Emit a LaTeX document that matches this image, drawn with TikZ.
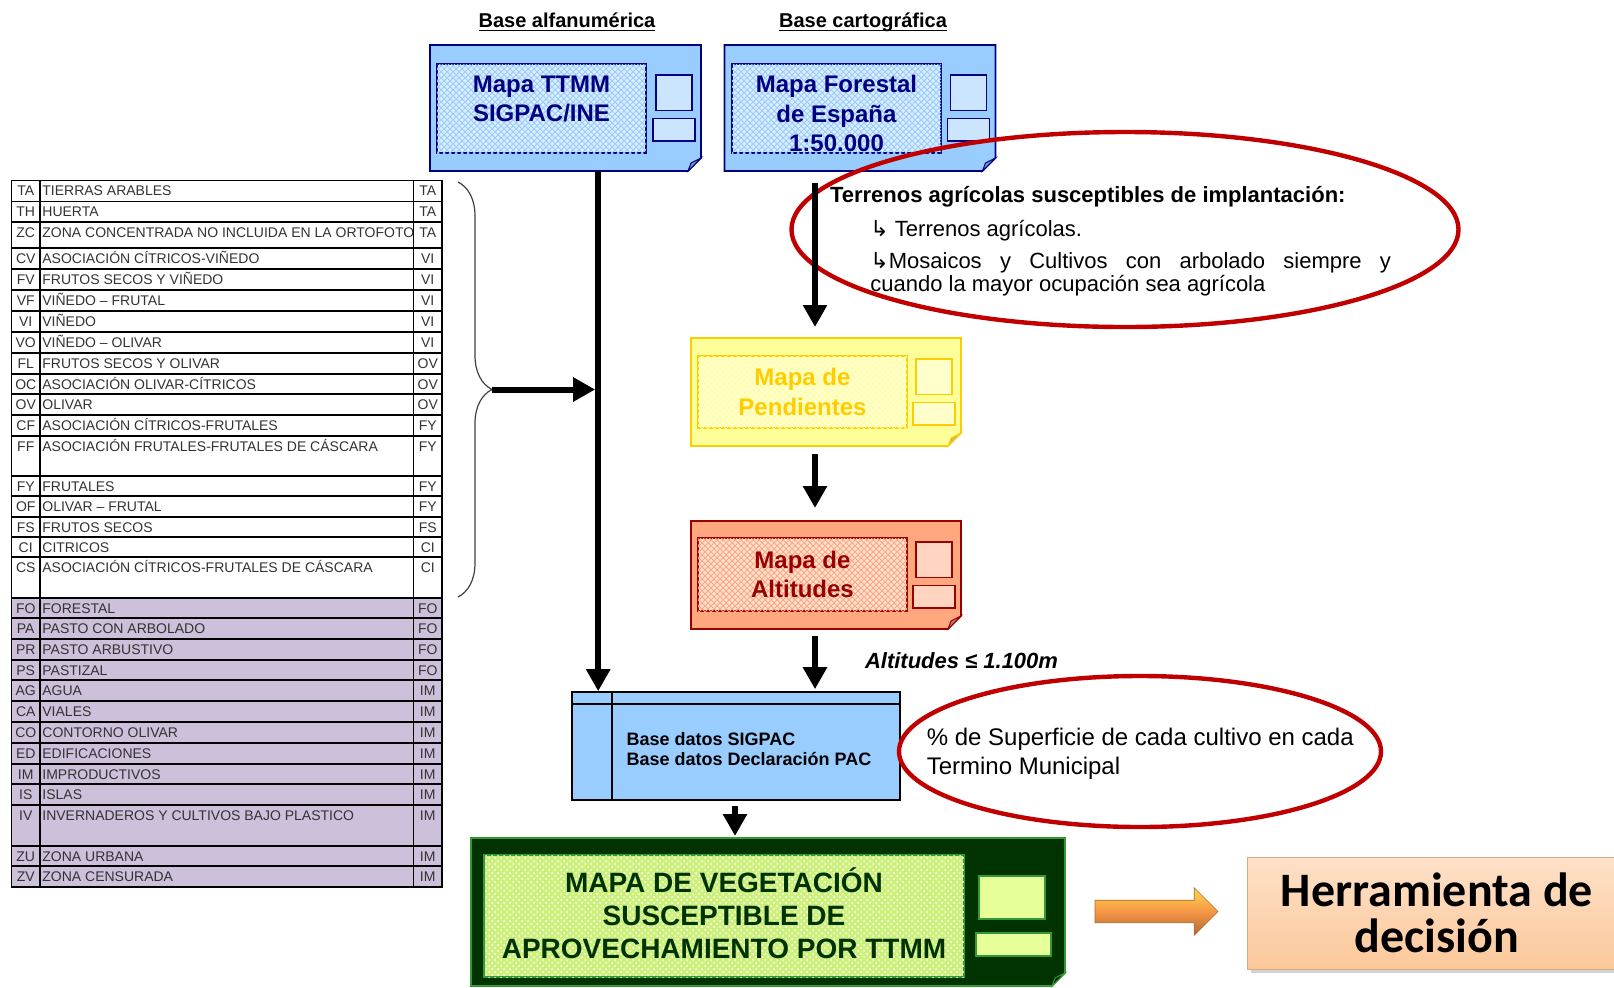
\documentclass[tikz,border=0pt]{standalone}
\usepackage{fontspec}
\setmainfont{Liberation Sans}
\newfontfamily\calibri{Carlito}
\newfontfamily\simbolos{DejaVu Sans}
\usetikzlibrary{arrows.meta,patterns,shapes.geometric,shapes.arrows,decorations.pathreplacing,calc,shadows}

\definecolor{azul}{HTML}{99CCFF}
\definecolor{azulclaro}{HTML}{CCE5FF}
\definecolor{marino}{HTML}{000080}
\definecolor{amarillo}{HTML}{FFFF99}
\definecolor{amarilloclaro}{HTML}{FFFFCC}
\definecolor{oro}{HTML}{FFCC00}
\definecolor{salmon}{HTML}{FFA880}
\definecolor{salmonclaro}{HTML}{FFD4C0}
\definecolor{granate}{HTML}{990000}
\definecolor{verdeosc}{HTML}{003300}
\definecolor{verde}{HTML}{339933}
\definecolor{lima}{HTML}{CCF07A}
\definecolor{limaclaro}{HTML}{E6FF99}
\definecolor{rojo}{HTML}{C00000}
\definecolor{lila}{HTML}{CCC0DA}
\definecolor{durazno}{HTML}{FCC89B}
\definecolor{naranja}{HTML}{F79646}

\begin{document}
\begin{tikzpicture}[x=0.5pt,y=-0.5pt,
  flecha/.style={line width=3pt,-{Triangle[width=11.5pt,length=11pt]}},
  marco/.style={inner sep=0pt,outer sep=0pt},
  interior/.style 2 args={draw=#1,fill=#2!35!white,line width=0.8pt,inner sep=0pt,
    postaction={pattern=crosshatch,pattern color=#2}},
  titulo/.style={font=\bfseries\fontsize{12}{14.6}\selectfont,align=center,inner sep=0pt,text=#1},
  tabla/.style={draw=black,line width=0.7pt},
  celda/.style={font=\fontsize{7}{8}\selectfont,text=black!80,inner sep=1pt,text height=5pt,text depth=0pt},
  elipse/.style={ellipse,draw=rojo,line width=2.2pt,inner sep=0pt},
  cabecera/.style={font=\bfseries\fontsize{10}{12}\selectfont},
  texto/.style={font=\fontsize{11}{12}\selectfont,inner sep=0pt,anchor=base west}]

\useasboundingbox (0,0) rectangle (1614,987);

% tabla de usos SIGPAC
\foreach \y/\h/\a/\d/\b in {180.5/20.8/TA/TIERRAS ARABLES/TA,
  201.3/20.7/TH/HUERTA/TA,
  222/26/ZC/ZONA CONCENTRADA NO INCLUIDA EN LA ORTOFOTO/TA,
  248/21/CV/ASOCIACIÓN CÍTRICOS-VIÑEDO/VI,
  269/21/FV/FRUTOS SECOS Y VIÑEDO/VI,
  290/21/VF/VIÑEDO – FRUTAL/VI,
  311/21/VI/VIÑEDO/VI,
  332/21/VO/VIÑEDO – OLIVAR/VI,
  353/21/FL/FRUTOS SECOS Y OLIVAR/OV,
  374/20/OC/ASOCIACIÓN OLIVAR-CÍTRICOS/OV,
  394/21/OV/OLIVAR/OV,
  415/21/CF/ASOCIACIÓN CÍTRICOS-FRUTALES/FY,
  436/40/FF/ASOCIACIÓN FRUTALES-FRUTALES DE CÁSCARA/FY,
  476/20/FY/FRUTALES/FY,
  496/21/OF/OLIVAR – FRUTAL/FY,
  517/20/FS/FRUTOS SECOS/FS,
  537/20/CI/CITRICOS/CI,
  557/41/CS/ASOCIACIÓN CÍTRICOS-FRUTALES DE CÁSCARA/CI}{
  \filldraw[fill=white,tabla] (11.5,\y) rectangle (40,\y+\h);
  \filldraw[fill=white,tabla] (40,\y) rectangle (413.5,\y+\h);
  \filldraw[fill=white,tabla] (413.5,\y) rectangle (442,\y+\h);
  \node[celda] (izq-\a) at (25.75,\y+10.4) {\a};
  \node[celda,anchor=west] (desc-\a) at (40,\y+10.4) {\d};
  \node[celda] (der-\a) at (427.75,\y+10.4) {\b};
}
\foreach \y/\h/\a/\d/\b in {598/20/FO/FORESTAL/FO,
  618/21/PA/PASTO CON ARBOLADO/FO,
  639/21/PR/PASTO ARBUSTIVO/FO,
  660/20/PS/PASTIZAL/FO,
  680/21/AG/AGUA/IM,
  701/21/CA/VIALES/IM,
  722/21/CO/CONTORNO OLIVAR/IM,
  743/21/ED/EDIFICACIONES/IM,
  764/20/IM/IMPRODUCTIVOS/IM,
  784/21/IS/ISLAS/IM,
  805/41/IV/INVERNADEROS Y CULTIVOS BAJO PLASTICO/IM,
  846/20/ZU/ZONA URBANA/IM,
  866/21/ZV/ZONA CENSURADA/IM}{
  \filldraw[fill=lila,tabla] (11.5,\y) rectangle (40,\y+\h);
  \filldraw[fill=lila,tabla] (40,\y) rectangle (413.5,\y+\h);
  \filldraw[fill=lila,tabla] (413.5,\y) rectangle (442,\y+\h);
  \node[celda] (izq-\a) at (25.75,\y+10.4) {\a};
  \node[celda,anchor=west] (desc-\a) at (40,\y+10.4) {\d};
  \node[celda] (der-\a) at (427.75,\y+10.4) {\b};
}

% cabeceras
\node[cabecera] (alfa) at (567,22) {\underline{\raisebox{0pt}[\height][0pt]{Base alfanumérica}}};
\node[cabecera] (carto) at (863,22) {\underline{\raisebox{0pt}[\height][0pt]{Base cartográfica}}};

% mapas
\node[marco,minimum width=135.5pt,minimum height=63pt] (ttmm) at (565.5,108) {};
\node[marco,minimum width=135.5pt,minimum height=63pt] (forestal) at (860,108) {};
\node[marco,minimum width=135pt,minimum height=54pt] (pendientes) at (826,392) {};
\node[marco,minimum width=135pt,minimum height=54pt] (altitudes) at (826,575) {};
\node[marco,minimum width=297pt,minimum height=74pt] (vegetacion) at (768,912) {};

\foreach \n/\fo/\dr in {ttmm/azul/marino,forestal/azul/marino,pendientes/amarillo/oro,
    altitudes/salmon/granate,vegetacion/verdeosc/verde}{
  \filldraw[fill=\fo,draw=\dr,line width=0.8pt] (\n.north west) -- (\n.north east)
    -- ([yshift=6.5pt]\n.south east) -- ([xshift=-6.5pt]\n.south east) -- (\n.south west) -- cycle;
  \filldraw[fill=\fo!75!black,draw=\dr,line width=0.5pt] ([yshift=6.5pt]\n.south east)
    -- ([xshift=-6.5pt]\n.south east) -- ([xshift=-5pt,yshift=4pt]\n.south east) -- cycle;
}
\foreach \n/\dr/\fs in {ttmm/marino/azulclaro,forestal/marino/azulclaro,
    pendientes/oro/amarilloclaro,altitudes/granate/salmonclaro}{
  \filldraw[fill=\fs,draw=\dr,line width=0.8pt] ([xshift=-22.5pt,yshift=16.5pt]\n.east) rectangle ([xshift=-4.5pt,yshift=-1.25pt]\n.east);
  \filldraw[fill=\fs,draw=\dr,line width=0.8pt] ([xshift=-24pt,yshift=-5.25pt]\n.east) rectangle ([xshift=-3pt,yshift=-16.5pt]\n.east);
}
\filldraw[fill=limaclaro,draw=verde,line width=0.8pt] ([xshift=-43pt,yshift=18pt]vegetacion.east) rectangle ([xshift=-10pt,yshift=-3.5pt]vegetacion.east);
\filldraw[fill=limaclaro,draw=verde,line width=0.8pt] ([xshift=-44.5pt,yshift=-10.5pt]vegetacion.east) rectangle ([xshift=-7pt,yshift=-22pt]vegetacion.east);

\node[interior={marino}{azul},minimum width=104.5pt,minimum height=44.5pt] (ttmm-i) at (541.5,108.5) {};
\node[titulo=marino,anchor=north] (ttmm-t) at ([yshift=-6pt]ttmm-i.north) {Mapa TTMM\\SIGPAC/INE};
\node[interior={marino}{azul},minimum width=104.5pt,minimum height=44.5pt] (forestal-i) at (836.5,108.5) {};
\node[titulo=marino,anchor=north] (forestal-t) at ([yshift=-6pt]forestal-i.north) {Mapa Forestal\\de España\\1:50.000};
\node[interior={oro}{amarillo},minimum width=104.5pt,minimum height=36pt,titulo=oro] (pendientes-i) at (802.5,392) {Mapa de\\Pendientes};
\node[interior={granate}{salmon},minimum width=104.5pt,minimum height=36.5pt,titulo=granate] (altitudes-i) at (802.5,574.5) {Mapa de\\Altitudes};
\node[draw=verde,line width=0.8pt,fill=lima,postaction={pattern=crosshatch dots,pattern color=white},
  minimum width=240pt,minimum height=61pt,inner sep=0pt] (vegetacion-i) at (724,916) {};
\node[titulo=verdeosc,font=\bfseries\fontsize{14}{16.5}\selectfont] (vegetacion-t)
  at ([yshift=1.5pt]vegetacion-i.center) {MAPA DE VEGETACIÓN\\SUSCEPTIBLE DE\\APROVECHAMIENTO  POR TTMM};

% base de datos
\node[draw=black,fill=azul,line width=0.8pt,minimum width=164pt,minimum height=54pt] (bd) at (736,746) {};
\draw[line width=0.8pt] ([yshift=-6.5pt]bd.north west) -- ([yshift=-6.5pt]bd.north east);
\draw[line width=0.8pt] ([xshift=20.5pt]bd.north west) -- ([xshift=20.5pt]bd.south west);
\node[anchor=west,align=left,inner sep=0pt,font=\bfseries\fontsize{9}{10.3}\selectfont] (bd-t)
  at ([xshift=27.5pt,yshift=-1.6pt]bd.west) {Base datos SIGPAC\\Base datos Declaración PAC};

% herramienta
\node[top color=durazno!55!white,bottom color=durazno,draw=durazno!85!black,line width=0.3pt,
  minimum width=190pt,minimum height=56pt,align=center,
  font=\calibri\bfseries\fontsize{24}{23}\selectfont,
  drop shadow={shadow xshift=2pt,shadow yshift=-2pt,opacity=0.35}] (herr) at (1437,913) {Herramienta de\\decisión};

% elipses
\node[elipse,minimum width=333.5pt,minimum height=97.5pt] (elipse1) at (1125,229.5) {};
\node[elipse,minimum width=241pt,minimum height=75.5pt] (elipse2) at (1140,751.5) {};

% flechas
\coordinate (fin) at ($(bd.north west)+(27,0)$);
\coordinate (p1) at ($(pendientes.north)+(-11,-11)$);
\draw[flecha] (ttmm.south -| fin) -- (fin);
\draw[decorate,decoration={brace,amplitude=17pt},line width=0.6pt,black!75] (458,182) -- (458,597);
\coordinate (punta) at (492,389.5);
\draw[flecha] (punta) -- ($(punta -| fin)+(-3,0)$);
\draw[flecha] ($(forestal.south -| p1)+(0,12)$) -- (p1);
\draw[flecha] ($(pendientes.south)+(-11,8)$) -- ($(altitudes.north)+(-11,-13)$);
\draw[flecha] ($(altitudes.south)+(-11,7)$) -- ($(bd.north -| p1)+(0,-2)$);
\draw[flecha] ($(bd.south)+(-1,5)$) -- ($(bd.south |- vegetacion.north)+(-1,-2)$);
\node[single arrow,top color=naranja!45!yellow!80!white,bottom color=naranja!70!black,middle color=naranja,
  draw=naranja!70!black,line width=0.3pt,minimum height=61.5pt,inner xsep=0pt,inner ysep=5.5pt,
  single arrow head extend=6.25pt,single arrow head indent=0pt]
  (salida) at ($(vegetacion.east)!0.5!(herr.west)+(-5,-1)$) {};

% textos
\node[texto,font=\bfseries\fontsize{11}{12}\selectfont] (implantacion) at (829.6,202.4) {Terrenos agrícolas susceptibles de implantación:};
\node[texto] (agricolas) at (870,236.4) {{\simbolos ↳} Terrenos agrícolas.};
\node[texto] (mosaicos) at (870,268.3) {\makebox[260.3pt][s]{{\simbolos ↳}Mosaicos y Cultivos con arbolado siempre y}};
\node[texto] (cuando) at (870,291.9) {cuando la mayor ocupación sea agrícola};
\node[texto,font=\bfseries\itshape\fontsize{11}{12}\selectfont] (limite) at (864.6,668.7) {Altitudes ≤ 1.100m};
\node[texto,font=\fontsize{12}{14.5}\selectfont] (superficie) at (926.4,745.6) {\% de Superficie de cada cultivo en cada};
\node[texto,font=\fontsize{12}{14.5}\selectfont] (termino) at (926.4,774.4) {Termino Municipal};

\end{tikzpicture}
\end{document}
